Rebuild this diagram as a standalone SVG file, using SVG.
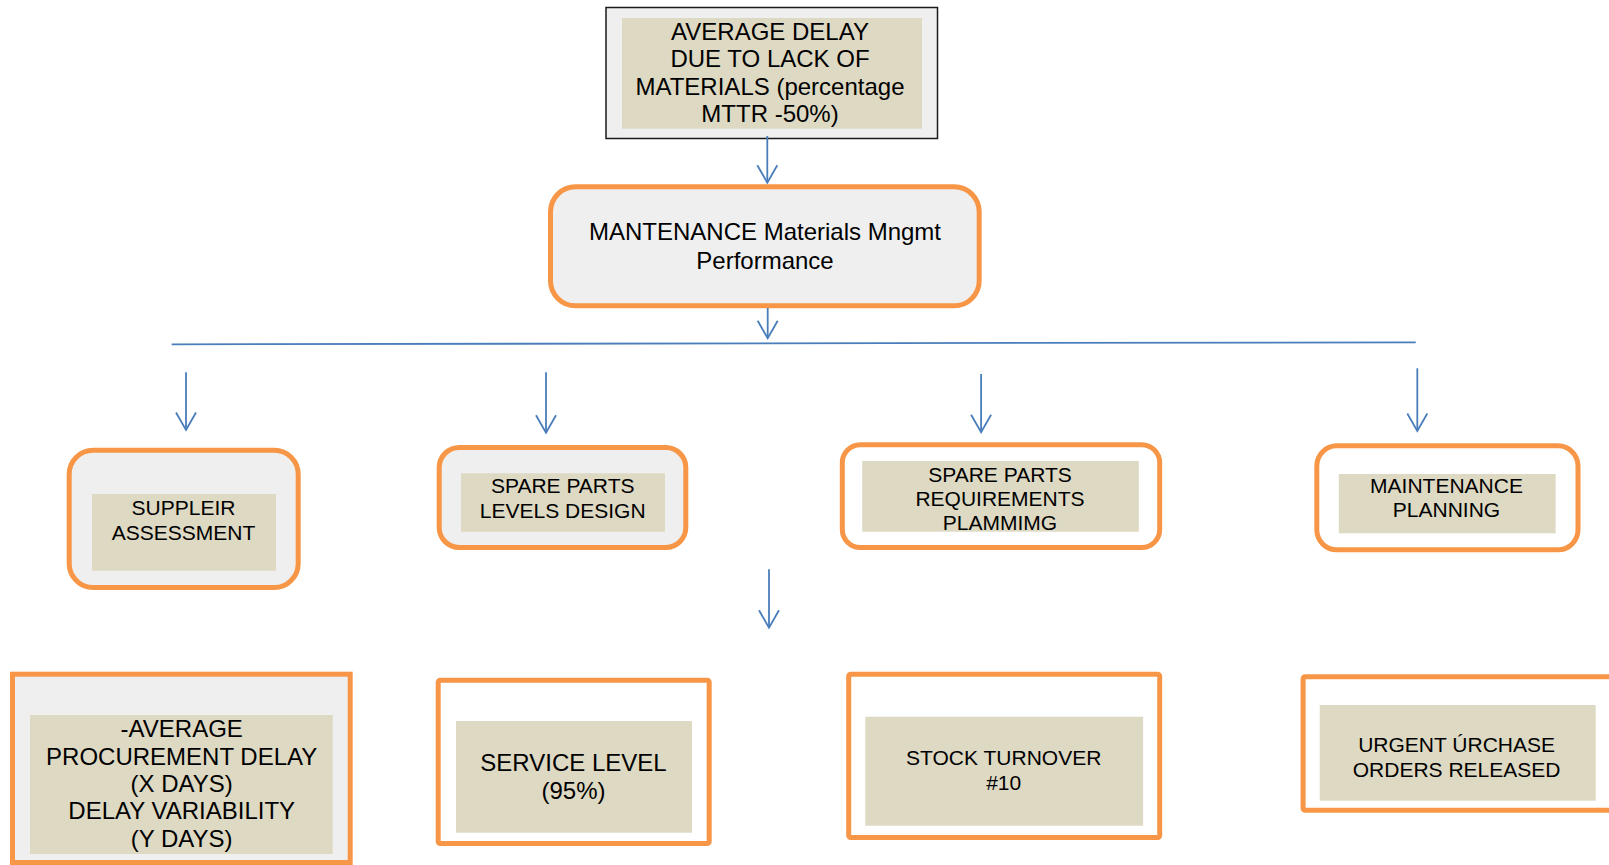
<svg xmlns="http://www.w3.org/2000/svg" width="1609" height="865" viewBox="0 0 1609 865">
  <defs>
    <marker id="open-arrow" markerUnits="userSpaceOnUse" markerWidth="24" markerHeight="24" viewBox="-19 -12 22 24" refX="0" refY="0" orient="auto">
      <path d="M-17.5,-10 L0,0 L-17.5,10" fill="none" stroke="#4a7ebb" stroke-width="1.8"/>
    </marker>
  </defs>
  <style>
    .label { font-family: "Liberation Sans", Arial, sans-serif; fill: #000; text-anchor: middle; }
    .f24 { font-size: 24px; }
    .f21 { font-size: 21px; }
    .tan { fill: #ddd9c3; }
    .orange { stroke: #f79646; stroke-width: 5; }
    .grey { fill: #efefef; }
    .white { fill: #ffffff; }
    .link { stroke: #4a7ebb; stroke-width: 1.8; fill: none; }
  </style>

  <rect width="1609" height="865" fill="#ffffff"/>

  <!-- top KPI -->
  <g id="node-avg-delay">
    <rect x="606" y="7.5" width="331.5" height="131" fill="#efefef" stroke="#1a1a1a" stroke-width="1.5"/>
    <rect class="tan" x="622" y="18" width="300" height="110.7"/>
    <text class="label f24" x="770" y="40">AVERAGE DELAY</text>
    <text class="label f24" x="770" y="67">DUE TO LACK OF</text>
    <text class="label f24" x="770" y="94.5">MATERIALS (percentage</text>
    <text class="label f24" x="770" y="122">MTTR -50%)</text>
  </g>

  <!-- central process -->
  <g id="node-materials-mgmt">
    <rect class="orange grey" x="550.5" y="186.8" width="428.7" height="119" rx="25"/>
    <text class="label f24" x="765" y="240">MANTENANCE Materials Mngmt</text>
    <text class="label f24" x="765" y="268.5">Performance</text>
  </g>

  <!-- drivers -->
  <g id="node-supplier-assessment">
    <rect class="orange grey" x="69.2" y="450.2" width="229" height="137.3" rx="24"/>
    <rect class="tan" x="92" y="494" width="184" height="76.7"/>
    <text class="label f21" x="183.5" y="515">SUPPLEIR</text>
    <text class="label f21" x="183.5" y="540">ASSESSMENT</text>
  </g>

  <g id="node-levels-design">
    <rect class="orange grey" x="439.2" y="447.5" width="246.6" height="100" rx="20"/>
    <rect class="tan" x="461" y="473.3" width="204" height="58.4"/>
    <text class="label f21" x="562.7" y="492.7">SPARE PARTS</text>
    <text class="label f21" x="562.7" y="517.7">LEVELS DESIGN</text>
  </g>

  <g id="node-requirements-planning">
    <rect class="orange white" x="842.3" y="444.8" width="317.4" height="102.7" rx="18"/>
    <rect class="tan" x="862.2" y="461" width="276.6" height="70.7"/>
    <text class="label f21" x="1000" y="481.7">SPARE PARTS</text>
    <text class="label f21" x="1000" y="506">REQUIREMENTS</text>
    <text class="label f21" x="1000" y="530">PLAMMIMG</text>
  </g>

  <g id="node-maintenance-planning">
    <rect class="orange white" x="1316.8" y="445.8" width="261.2" height="104" rx="20"/>
    <rect class="tan" x="1338.8" y="474" width="216.8" height="59.3"/>
    <text class="label f21" x="1446.5" y="493.3">MAINTENANCE</text>
    <text class="label f21" x="1446.5" y="517.3">PLANNING</text>
  </g>

  <!-- indicators -->
  <g id="node-procurement-delay">
    <rect class="orange grey" x="12.5" y="674.2" width="337.7" height="188.3"/>
    <rect class="tan" x="30" y="715" width="302.7" height="139"/>
    <text class="label f24" x="181.7" y="736.7">-AVERAGE</text>
    <text class="label f24" x="181.7" y="765">PROCUREMENT DELAY</text>
    <text class="label f24" x="181.7" y="791.7">(X DAYS)</text>
    <text class="label f24" x="181.7" y="819.3">DELAY VARIABILITY</text>
    <text class="label f24" x="181.7" y="847.3">(Y DAYS)</text>
  </g>

  <g id="node-service-level">
    <rect class="orange white" x="438.2" y="680.2" width="271" height="163.3" rx="2"/>
    <rect class="tan" x="456" y="721" width="236" height="111.7"/>
    <text class="label f24" x="573.5" y="770.7">SERVICE LEVEL</text>
    <text class="label f24" x="573.5" y="799.3">(95%)</text>
  </g>

  <g id="node-stock-turnover">
    <rect class="orange white" x="848.7" y="674.2" width="311" height="163.3" rx="2"/>
    <rect class="tan" x="865.3" y="716.7" width="277.8" height="109"/>
    <text class="label f21" x="1003.7" y="765">STOCK TURNOVER</text>
    <text class="label f21" x="1003.7" y="790">#10</text>
  </g>

  <g id="node-urgent-orders">
    <rect class="orange white" x="1303.1" y="676.8" width="320" height="133.4" rx="2"/>
    <rect class="tan" x="1319.7" y="705" width="276" height="95.7"/>
    <text class="label f21" x="1456.6" y="752.3">URGENT ÚRCHASE</text>
    <text class="label f21" x="1456.6" y="776.7">ORDERS RELEASED</text>
  </g>

  <!-- connectors -->
  <g id="connectors">
    <line class="link" x1="767.3" y1="136" x2="767.3" y2="182.7" marker-end="url(#open-arrow)"/>
    <line class="link" x1="767.7" y1="308" x2="767.7" y2="338.3" marker-end="url(#open-arrow)"/>
    <line class="link" x1="171.7" y1="344.3" x2="1415.7" y2="342.3" stroke-width="2.2"/>
    <line class="link" x1="186" y1="372.3" x2="186" y2="430" marker-end="url(#open-arrow)"/>
    <line class="link" x1="546" y1="372.3" x2="546" y2="432.7" marker-end="url(#open-arrow)"/>
    <line class="link" x1="981.1" y1="374" x2="981.1" y2="432.3" marker-end="url(#open-arrow)"/>
    <line class="link" x1="1417.3" y1="368.3" x2="1417.3" y2="431" marker-end="url(#open-arrow)"/>
    <line class="link" x1="769" y1="569.3" x2="769" y2="627.7" marker-end="url(#open-arrow)"/>
  </g>
</svg>
